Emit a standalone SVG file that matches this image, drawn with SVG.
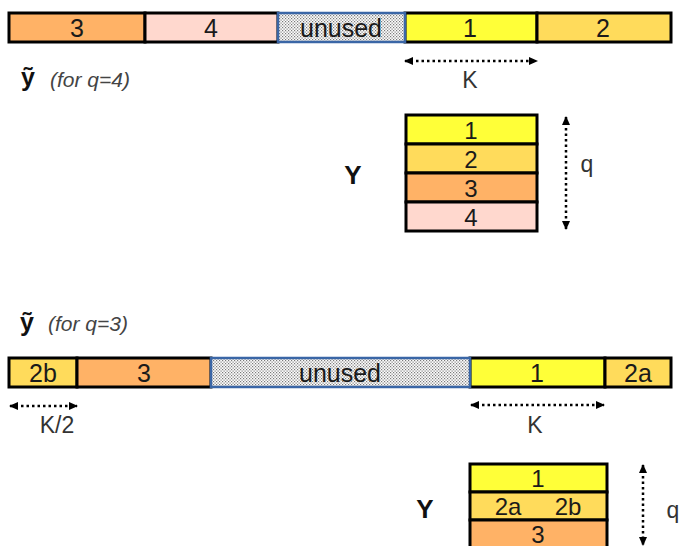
<svg xmlns="http://www.w3.org/2000/svg" width="682" height="546" viewBox="0 0 682 546">
<style>
.c{stroke:#000;stroke-width:3}
.u{fill:url(#dots);stroke:#3a66a6;stroke-width:2.5}
.t{font-family:"Liberation Sans",Arial,sans-serif;font-size:25px;fill:#1a1a1a;text-anchor:middle}
.m{font-family:"Liberation Sans",Arial,sans-serif;font-size:24px;fill:#1a1a1a;text-anchor:middle}
.l{font-family:"Liberation Sans",Arial,sans-serif;font-size:23px;fill:#333;text-anchor:middle}
.yt{font-family:"Liberation Sans",Arial,sans-serif;font-size:25px;font-weight:bold;fill:#111}
.f{font-family:"Liberation Sans",Arial,sans-serif;font-size:21px;font-style:italic;fill:#444}
.Y{font-family:"Liberation Sans",Arial,sans-serif;font-size:26px;font-weight:bold;fill:#111;text-anchor:middle}
.a{stroke:#000;stroke-width:2.5;stroke-dasharray:2.5 3;fill:none;marker-start:url(#ah);marker-end:url(#ah)}
</style>
<defs>
<pattern id="dots" width="3" height="3" patternUnits="userSpaceOnUse">
<rect width="3" height="3" fill="#fdfdfd"/>
<rect width="1.2" height="1.2" fill="#7a7a7a"/>
<rect x="1.5" y="1.5" width="1.2" height="1.2" fill="#7a7a7a"/>
</pattern>
<marker id="ah" markerUnits="userSpaceOnUse" markerWidth="9" markerHeight="9" refX="8" refY="4.5" orient="auto-start-reverse">
<path d="M0,0.5 L9,4.5 L0,8.5 z" fill="#000"/>
</marker>
</defs>

<!-- top bar -->
<g id="top-3"><rect class="c" x="9" y="13" width="136" height="29" fill="#ffb266"/><text class="t" x="77" y="36.5">3</text></g>
<g id="top-4"><rect class="c" x="145" y="13" width="133" height="29" fill="#ffd8ce"/><text class="t" x="211" y="36.5">4</text></g>
<g id="top-1"><rect class="c" x="405" y="13" width="132" height="29" fill="#ffff38"/><text class="t" x="470" y="36.5">1</text></g>
<g id="top-2"><rect class="c" x="537" y="13" width="134" height="29" fill="#ffdb5b"/><text class="t" x="603" y="36.5">2</text></g>
<g id="top-unused"><rect class="u" x="278" y="13" width="127" height="29"/><text class="t" x="341" y="36.5">unused</text></g>

<g id="label-top">
<text class="yt" x="21" y="86">ỹ</text>
<text class="f" x="50" y="87">(for q=4)</text>
</g>

<!-- top Y matrix -->
<g id="Y1-label"><text class="Y" x="353" y="184">Y</text></g>
<g id="Y1-r1"><rect class="c" x="406" y="115" width="131" height="29" fill="#ffff38"/><text class="m" x="471" y="138.5">1</text></g>
<g id="Y1-r2"><rect class="c" x="406" y="144" width="131" height="29" fill="#ffdb5b"/><text class="m" x="471" y="167.5">2</text></g>
<g id="Y1-r3"><rect class="c" x="406" y="173" width="131" height="29" fill="#ffb266"/><text class="m" x="471" y="196.5">3</text></g>
<g id="Y1-r4"><rect class="c" x="406" y="202" width="131" height="29" fill="#ffd8ce"/><text class="m" x="471" y="225.5">4</text></g>

<!-- bottom bar -->
<g id="label-bottom">
<text class="yt" x="20" y="331">ỹ</text>
<text class="f" x="48" y="331">(for q=3)</text>
</g>
<g id="bot-2b"><rect class="c" x="9" y="358" width="68" height="29" fill="#ffdb5b"/><text class="t" x="43" y="381.5">2b</text></g>
<g id="bot-3"><rect class="c" x="77" y="358" width="134" height="29" fill="#ffb266"/><text class="t" x="144" y="381.5">3</text></g>
<g id="bot-1"><rect class="c" x="470" y="358" width="135" height="29" fill="#ffff38"/><text class="t" x="537" y="381.5">1</text></g>
<g id="bot-2a"><rect class="c" x="605" y="358" width="66" height="29" fill="#ffdb5b"/><text class="t" x="638" y="381.5">2a</text></g>
<g id="bot-unused"><rect class="u" x="211" y="358" width="259" height="29"/><text class="t" x="340" y="381.5">unused</text></g>

<!-- bottom Y matrix -->
<g id="Y2-label"><text class="Y" x="425" y="518">Y</text></g>
<g id="Y2-r1"><rect class="c" x="470" y="464" width="137" height="28" fill="#ffff38"/><text class="m" x="538" y="486.5">1</text></g>
<g id="Y2-r2"><rect class="c" x="470" y="492" width="137" height="28" fill="#ffdb5b"/><text class="m" x="508" y="514.5">2a</text><text class="m" x="568" y="514.5">2b</text></g>
<g id="Y2-r3"><rect class="c" x="470" y="520" width="137" height="30" fill="#ffb266"/><text class="m" x="538" y="542.5">3</text></g>

<!-- connectors -->
<g id="connectors">
<line class="a" x1="405" y1="61" x2="537" y2="61"/>
<line class="a" x1="566" y1="117" x2="566" y2="229"/>
<line class="a" x1="10" y1="406" x2="77" y2="406"/>
<line class="a" x1="471" y1="405" x2="604" y2="405"/>
<line class="a" x1="643" y1="465" x2="643" y2="545"/>
</g>

<g id="dim-labels">
<text class="l" x="470" y="88">K</text>
<text class="l" x="587" y="172">q</text>
<text class="l" x="57" y="433">K/2</text>
<text class="l" x="535" y="433">K</text>
<text class="l" x="673" y="518">q</text>
</g>
</svg>
